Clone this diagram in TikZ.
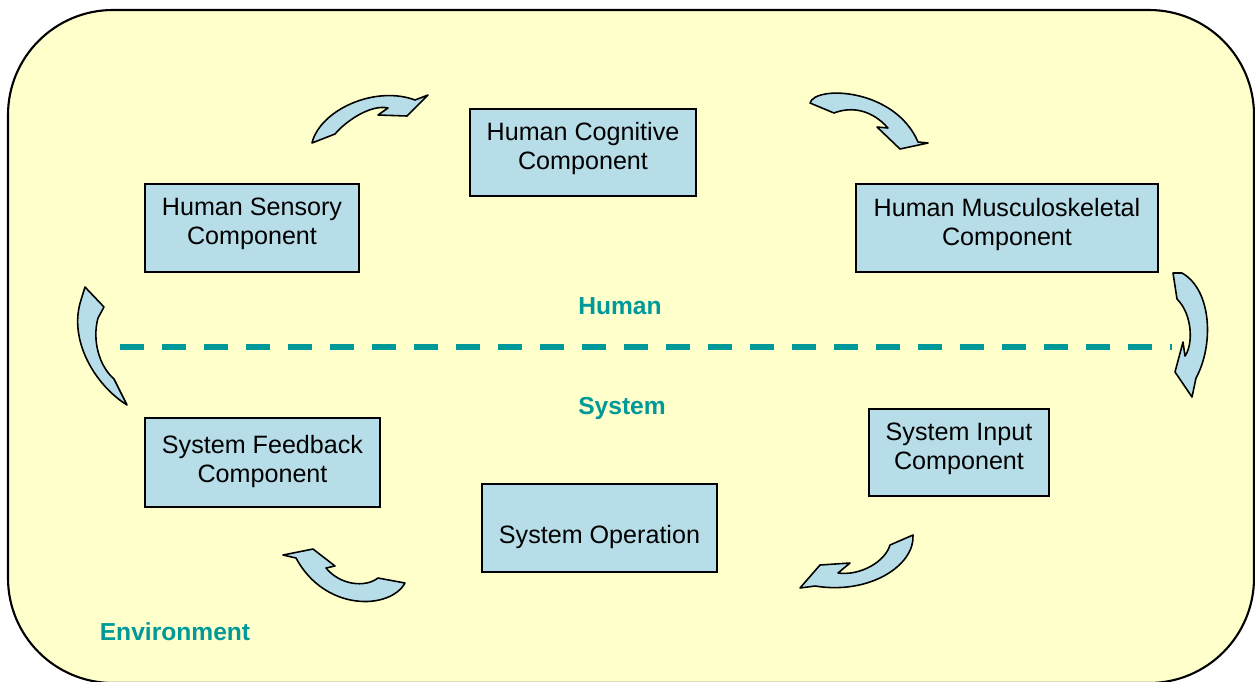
\documentclass[tikz,border=0pt]{standalone}
\usepackage{fontspec}
\setmainfont{Liberation Sans}
\definecolor{bg}{RGB}{255,255,204}
\definecolor{boxfill}{RGB}{183,222,232}
\definecolor{teal1}{RGB}{0,153,153}
\begin{document}
\begin{tikzpicture}[x=0.02cm,y=-0.02cm,
 box/.style={draw=black,line width=1.1pt,fill=boxfill,inner sep=0pt},
 boxtext/.style={align=center,font=\fontsize{14.3}{16.5}\selectfont,inner sep=0pt},
 lbl/.style={text=teal1,font=\fontsize{14}{16}\selectfont\bfseries,inner sep=0pt},
 carrow/.style={draw=black,line width=0.9pt,fill=boxfill,line join=round}]
\useasboundingbox (0,0) rectangle (1255,681);
\clip (0,0) rectangle (1255,681);
\draw[fill=bg, line width=1.2pt, rounded corners=2.1cm] (8,10) rectangle (1254,683);

% boxes
\node[box, minimum width=4.52cm, minimum height=1.74cm] (cog) at (583,152.5) {};
\node[box, minimum width=4.28cm, minimum height=1.76cm] (sen) at (252,228) {};
\node[box, minimum width=6.04cm, minimum height=1.76cm] (mus) at (1007,228) {};
\node[box, minimum width=4.70cm, minimum height=1.78cm] (fb) at (262.5,462.5) {};
\node[box, minimum width=4.70cm, minimum height=1.76cm] (op) at (599.5,528) {};
\node[box, minimum width=3.60cm, minimum height=1.74cm] (inp) at (959,452.5) {};

\node[boxtext] (cogt) at (583,148) {Human Cognitive\\Component};
\node[boxtext] (sent) at (252,224) {Human Sensory\\Component};
\node[boxtext] (must) at (1007,224) {Human Musculoskeletal\\Component};
\node[boxtext] (fbt) at (262.5,461) {System Feedback\\Component};
\node[boxtext] (opt) at (599.5,537) {System Operation};
\node[boxtext] (inpt) at (959,449) {System Input\\Component};

% labels
\node[lbl] (hum) at (620,306) {Human};
\node[lbl] (sys) at (622,408) {System};
\node[lbl] (env) at (175,632) {Environment};

% dashed divider
\coordinate (dl) at (120,347);
\coordinate (dr) at (1172,347);
\draw[teal1, line width=3.4pt, dash pattern=on 0.48cm off 0.36cm] (dl) -- (dr);

% curved arrows
% A: sensory -> cognitive
\draw[carrow] (312,143) .. controls (320,110) and (375,85) .. (415,100)
  -- (428,95) -- (407,116) -- (378,115) -- (388,108)
  .. controls (370,104) and (345,122) .. (335,134) -- cycle;
% B: cognitive -> musculoskeletal
\draw[carrow] (810,103) .. controls (815,85) and (895,88) .. (918,142)
  -- (928,143) -- (900,149) -- (877,127) -- (888,128)
  .. controls (872,110) and (852,106) .. (834,113) -- cycle;
% D: right side, going down
\draw[carrow] (1173,273) -- (1177,299)
  .. controls (1193,315) and (1193,345) .. (1185,356)
  -- (1183,342) -- (1175,372) -- (1192,397) -- (1196,378)
  .. controls (1214,345) and (1212,290) .. (1182,273) -- cycle;
% F: input -> operation
\draw[carrow] (890,545) -- (913,535)
  .. controls (915,565) and (870,595) .. (815,586)
  -- (800,588) -- (820,565) -- (850,563) -- (838,573)
  .. controls (860,576) and (885,562) .. (890,545) -- cycle;
% E: operation -> feedback
\draw[carrow] (283,555) -- (313,549) -- (335,566) -- (326,568)
  .. controls (340,585) and (365,588) .. (378,578)
  -- (405,583) .. controls (390,610) and (325,612) .. (296,558) -- cycle;
% C: left side, going up
\draw[carrow] (127,405) .. controls (95,385) and (68,340) .. (81,300)
  -- (85,287) -- (104,307) -- (98,318)
  .. controls (92,340) and (99,366) .. (114,379) -- cycle;
\end{tikzpicture}
\end{document}
